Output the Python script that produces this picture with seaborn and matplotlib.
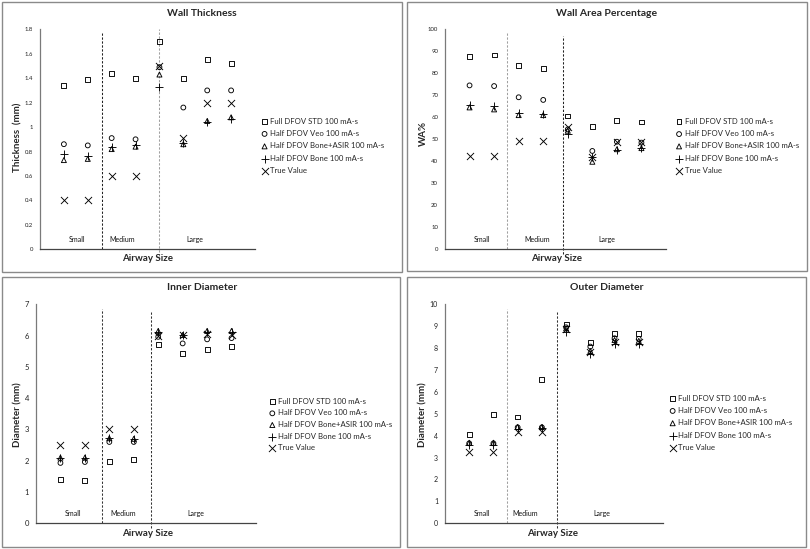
import matplotlib
matplotlib.use("Agg")
import matplotlib.pyplot as plt
import seaborn as sns
import pandas as pd
from matplotlib.patches import Rectangle
from matplotlib.ticker import FuncFormatter, MultipleLocator

sns.set_style("white")
plt.rcParams['font.family'] = ['Lato', 'DejaVu Sans']

# ---------------- data ----------------
x_pos = [1, 2, 3, 4, 5, 6, 7, 8]
series_names = ["Full DFOV STD 100 mA-s", "Half DFOV Veo 100 mA-s",
                "Half DFOV Bone+ASIR 100 mA-s", "Half DFOV Bone 100 mA-s",
                "True Value"]
size_labels = ["Small", "Medium", "Large"]

wt_full = [1.34, 1.39, 1.44, 1.40, 1.70, 1.40, 1.55, 1.52]
wt_veo = [0.86, 0.85, 0.91, 0.90, 1.49, 1.16, 1.30, 1.30]
wt_asir = [0.73, 0.74, 0.82, 0.84, 1.43, 0.86, 1.05, 1.08]
wt_bone = [0.78, 0.76, 0.84, 0.85, 1.33, 0.87, 1.04, 1.07]
wt_true = [0.40, 0.40, 0.60, 0.60, 1.50, 0.91, 1.20, 1.20]

wa_full = [87.5, 88.3, 83.5, 82.0, 60.6, 56.0, 58.5, 57.9]
wa_veo = [74.5, 74.2, 69.1, 67.9, 54.5, 44.7, 48.9, 48.5]
wa_asir = [64.5, 63.6, 61.0, 61.0, 53.9, 39.8, 45.5, 46.0]
wa_bone = [65.6, 65.1, 61.8, 61.5, 52.4, 42.1, 45.1, 45.9]
wa_true = [42.6, 42.6, 49.2, 49.2, 55.7, 42.0, 49.0, 48.7]

id_full = [1.40, 1.37, 1.98, 2.03, 5.72, 5.43, 5.56, 5.64]
id_veo = [1.93, 1.96, 2.60, 2.60, 5.96, 5.75, 5.88, 5.92]
id_asir = [2.10, 2.10, 2.72, 2.70, 6.15, 6.02, 6.15, 6.15]
id_bone = [2.09, 2.09, 2.73, 2.70, 6.13, 6.02, 6.10, 6.12]
id_true = [2.50, 2.50, 3.00, 3.00, 6.00, 6.02, 6.04, 6.02]

od_full = [4.05, 4.98, 4.85, 6.58, 9.10, 8.25, 8.65, 8.65]
od_veo = [3.65, 3.65, 4.38, 4.38, 8.95, 8.07, 8.45, 8.42]
od_asir = [3.68, 3.68, 4.40, 4.40, 8.90, 7.87, 8.37, 8.33]
od_bone = [3.58, 3.58, 4.31, 4.34, 8.75, 7.75, 8.17, 8.20]
od_true = [3.25, 3.25, 4.16, 4.16, 8.87, 7.80, 8.30, 8.30]

# ---------------- style ----------------
markers = ['s', 'o', '^', '+', 'x']
msizes = [12, 12, 13, 26, 26]
filled = [True, True, True, False, False]

W, H = 810, 549
fig = plt.figure(figsize=(W / 100, H / 100), dpi=100)


def fx(px):
    return px / W


def fy(py):
    return 1 - py / H


panels = [
    dict(title="Wall Thickness", ylabel="Thickness  (mm)",
         values=[wt_full, wt_veo, wt_asir, wt_bone, wt_true],
         ymax=1.8, ystep=0.2, tick_fs=4.3,
         ax_px=(40, 29.3, 255, 249.3), box_px=(2, 1.5, 402, 271.5),
         title_px=(202, 13), ylab_px=(18, 137), xlab_px=(148, 258),
         vlines=[(2.59, '#222222', 0.0, 0.985), (4.99, '#a0a0a0', -0.03, 1.0)],
         cat_x=[1.55, 3.45, 6.5], leg=(1.03, 0.47), ls=0.7),
    dict(title="Wall Area Percentage", ylabel="WA%",
         values=[wa_full, wa_veo, wa_asir, wa_bone, wa_true],
         ymax=100, ystep=10, tick_fs=4.3,
         ax_px=(445, 29.3, 666, 249.3), box_px=(406.5, 1.5, 807, 271),
         title_px=(607, 13), ylab_px=(423, 133), xlab_px=(557, 258),
         vlines=[(2.52, '#a0a0a0', 0.0, 0.985), (4.82, '#222222', -0.02, 0.97)],
         cat_x=[1.5, 3.74, 6.6], leg=(1.045, 0.47), ls=0.68),
    dict(title="Inner Diameter", ylabel="Diameter (mm)",
         values=[id_full, id_veo, id_asir, id_bone, id_true],
         ymax=7, ystep=1, tick_fs=5.5,
         ax_px=(36, 304.3, 256, 523.3), box_px=(2, 276.5, 400, 546.5),
         title_px=(202, 288), ylab_px=(18, 415), xlab_px=(148, 533),
         vlines=[(2.69, '#333333', 0.0, 0.98), (4.72, '#333333', -0.02, 0.966)],
         cat_x=[1.52, 3.56, 6.56], leg=(1.06, 0.451), ls=0.6),
    dict(title="Outer Diameter", ylabel="Diameter (mm)",
         values=[od_full, od_veo, od_asir, od_bone, od_true],
         ymax=10, ystep=1, tick_fs=5.0,
         ax_px=(445, 304.3, 663, 523.3), box_px=(406.5, 276.5, 806, 546.5),
         title_px=(607, 288), ylab_px=(423, 415), xlab_px=(553, 533),
         vlines=[(2.55, '#a0a0a0', 0.0, 0.98), (4.62, '#333333', -0.02, 0.966)],
         cat_x=[1.52, 3.33, 6.47], leg=(1.03, 0.459), ls=0.68),
]

for p in panels:
    x0, y0, x1, y1 = p["ax_px"]
    ax = fig.add_axes([fx(x0), fy(y1), (x1 - x0) / W, (y1 - y0) / H])

    handles = []
    for name, vals, m, s, f in zip(series_names, p["values"], markers, msizes, filled):
        df = pd.DataFrame({"x": x_pos, "y": vals})
        kws = dict(marker=m, s=s, linewidth=0.65, color="black", edgecolor="black")
        if f:
            kws["facecolor"] = "none"
        sns.scatterplot(data=df, x="x", y="y", ax=ax, legend=False, zorder=3, **kws)
        handles.append(ax.collections[-1])

    ax.set_xlim(0, 9)
    ax.set_ylim(0, p["ymax"])
    ax.yaxis.set_major_locator(MultipleLocator(p["ystep"]))
    ax.yaxis.set_major_formatter(FuncFormatter(lambda v, _: f"{v:g}"))
    ax.set_xticks([])
    ax.tick_params(axis="y", length=0, pad=5, labelsize=p["tick_fs"], labelcolor="#222222")
    ax.set_xlabel("")
    ax.set_ylabel("")
    for side in ["top", "right"]:
        ax.spines[side].set_visible(False)
    ax.spines["left"].set_color("#7a7a7a")
    ax.spines["bottom"].set_color("#444444")
    ax.spines["left"].set_linewidth(0.9)
    ax.spines["bottom"].set_linewidth(0.9)

    for xv, col, ymin, ymax in p["vlines"]:
        ax.axvline(xv, ymin=ymin, ymax=ymax, color=col, lw=0.75,
                   linestyle=(0, (2.2, 1.6)), clip_on=False, zorder=1)

    for lab, xv in zip(size_labels, p["cat_x"]):
        ax.text(xv, 0.045, lab, transform=ax.get_xaxis_transform(),
                ha="center", va="center", fontsize=5, color="#111111")

    ax.legend(handles, series_names, loc="center left", bbox_to_anchor=p["leg"],
              frameon=False, fontsize=5.6, handlelength=0.8, handletextpad=0.3,
              labelspacing=p["ls"], borderpad=0, borderaxespad=0)

    bx0, by0, bx1, by1 = p["box_px"]
    fig.add_artist(Rectangle((fx(bx0), fy(by1)), (bx1 - bx0) / W, (by1 - by0) / H,
                             transform=fig.transFigure, fill=False,
                             edgecolor="#8a8a8a", lw=1.0))

    fig.text(fx(p["title_px"][0]), fy(p["title_px"][1]), p["title"],
             ha="center", va="center", fontsize=7.5, fontweight="bold")
    fig.text(fx(p["ylab_px"][0]), fy(p["ylab_px"][1]), p["ylabel"],
             ha="center", va="center", rotation=90, fontsize=7, fontweight="bold")
    fig.text(fx(p["xlab_px"][0]), fy(p["xlab_px"][1]), "Airway Size",
             ha="center", va="center", fontsize=7, fontweight="bold")

fig.savefig("out.png", dpi=100, facecolor="white")
